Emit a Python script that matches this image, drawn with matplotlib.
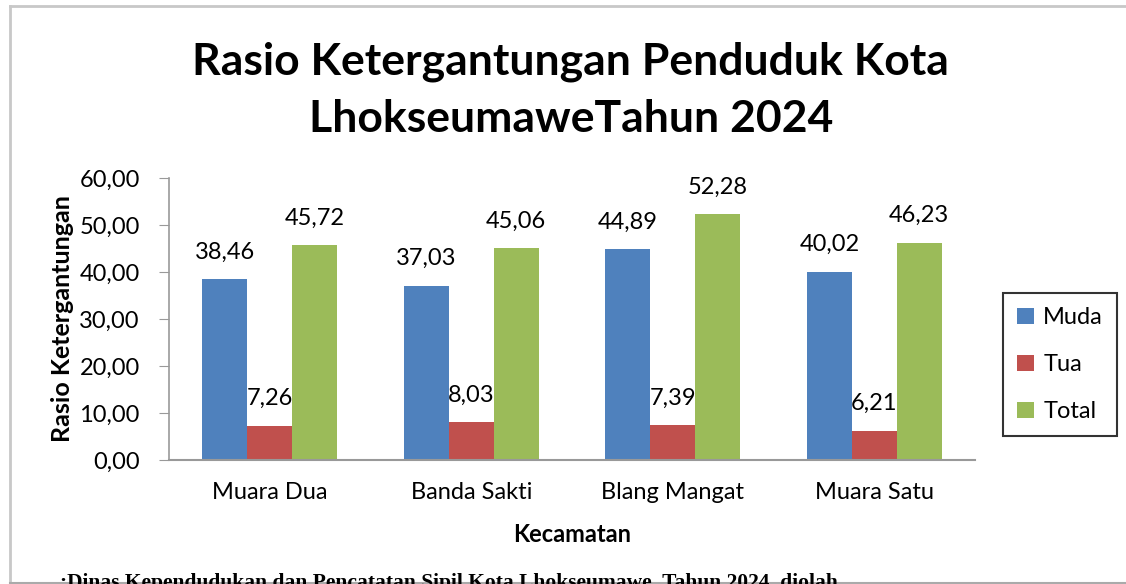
import matplotlib
matplotlib.use("Agg")
import matplotlib.pyplot as plt
from matplotlib.lines import Line2D
import numpy as np

categories = ["Muara Dua", "Banda Sakti", "Blang Mangat", "Muara Satu"]
muda = [38.46, 37.03, 44.89, 40.02]
tua = [7.26, 8.03, 7.39, 6.21]
total = [45.72, 45.06, 52.28, 46.23]
series_names = ["Muda", "Tua", "Total"]
colors = ["#4F81BD", "#C0504D", "#9BBB59"]
yticks = [0, 10, 20, 30, 40, 50, 60]

plt.rcParams['font.family'] = ['Lato', 'DejaVu Sans']

def fmt(v):
    return f"{v:.2f}".replace(".", ",")

fig = plt.figure(figsize=(11.26, 5.84), dpi=100)
ax = fig.add_axes([169/1126, 1-460/584, (975-169)/1126, (460-178)/584])

x = np.arange(len(categories))
w = 0.223
for i, (vals, name, c) in enumerate(zip([muda, tua, total], series_names, colors)):
    bars = ax.bar(x + (i-1)*w, vals, w, color=c, label=name)
    for b, v in zip(bars, vals):
        ax.annotate(fmt(v), (b.get_x()+b.get_width()/2, v), xytext=(0, 12),
                    textcoords="offset points", ha="center", va="bottom", fontsize=17)

ax.set_xlim(-0.5, 3.5)
ax.set_ylim(0, 60)
ax.set_yticks(yticks)
ax.set_yticklabels([fmt(v) for v in yticks], fontsize=17)
ax.set_xticks(x)
ax.set_xticklabels(categories, fontsize=17)
ax.tick_params(axis='x', length=0, pad=16)
ax.tick_params(axis='y', length=7, color='#999999', direction='out', pad=14)
for s in ['top', 'right']:
    ax.spines[s].set_visible(False)
ax.spines['left'].set_color('#999999')
ax.spines['bottom'].set_color('#999999')
ax.spines['left'].set_linewidth(1.2)
ax.spines['bottom'].set_linewidth(1.5)
ax.set_ylabel("Rasio Ketergantungan", fontsize=18, fontweight='bold', labelpad=4)
ax.set_xlabel("Kecamatan", fontsize=17, fontweight='bold', labelpad=14)

fig.text(0.507, 1-90/584, "Rasio Ketergantungan Penduduk Kota\nLhokseumaweTahun 2024",
         ha="center", va="center", fontsize=32, fontweight="bold", linespacing=1.5)

leg = ax.legend(loc="upper left", bbox_to_anchor=(1003/1126, 1-293/584),
                bbox_transform=fig.transFigure, fontsize=17, frameon=True,
                fancybox=False, edgecolor="black", handlelength=0.7, handleheight=0.7,
                handletextpad=0.4, labelspacing=1.1, borderpad=0.6, borderaxespad=0)
leg.get_frame().set_linewidth(1.5)

fig.add_artist(Line2D([10/1126, 10/1126], [0, 1-6/584], transform=fig.transFigure, color="#c8c8c8", lw=2))
fig.add_artist(Line2D([10/1126, 1], [1-6/584, 1-6/584], transform=fig.transFigure, color="#c8c8c8", lw=2))
fig.add_artist(Line2D([10/1126, 1], [1-582.5/584, 1-582.5/584], transform=fig.transFigure, color="#aaaaaa", lw=1.5))

fig.text(60/1126, 1-588/584, ":Dinas Kependudukan dan Pencatatan Sipil Kota Lhokseumawe, Tahun 2024, diolah",
         ha="left", va="baseline", fontsize=15.5, fontweight="bold", family="Liberation Serif")

fig.savefig("out.png", dpi=100)
